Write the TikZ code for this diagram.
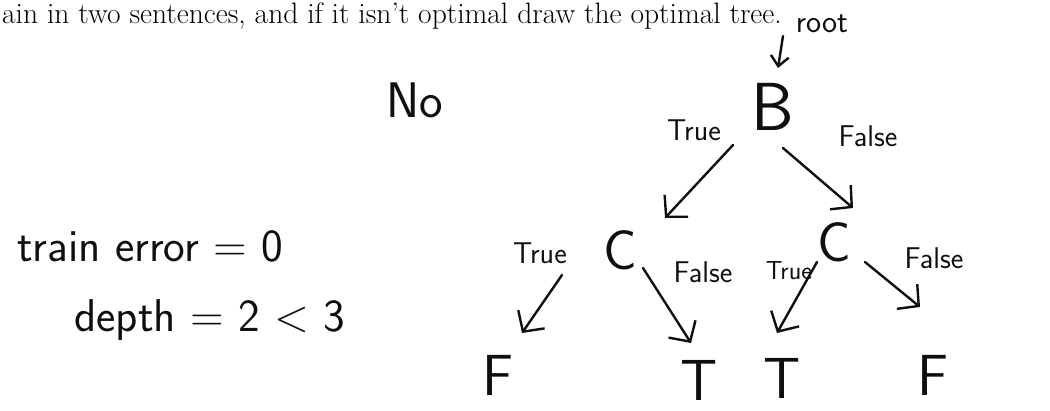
\documentclass[tikz,border=0pt]{standalone}
\usepackage{fontspec}
\usepackage{xcolor}
\usepackage{tikz}
\usetikzlibrary{arrows.meta}
\definecolor{inkBlack}{RGB}{15,15,15}

\begin{document}
\begin{tikzpicture}[x=1pt, y=-1pt,
		handNote/.style={font=\sffamily\fontsize{46}{52}\selectfont, text=inkBlack, inner sep=0pt},
		splitNode/.style={handNote, font=\sffamily\fontsize{56}{62}\selectfont},
		leafNode/.style={handNote, font=\sffamily\fontsize{58}{64}\selectfont},
		branchLabel/.style={handNote, font=\sffamily\fontsize{30}{34}\selectfont},
		branchArrow/.style={draw=inkBlack, line width=2.4pt, line cap=round,
			-{Straight Barb[length=15pt,width=32pt,line width=2.4pt]}}]
		\useasboundingbox (0,0) rectangle (1050,410);
		\node [anchor=base west, inner sep=0pt, font=\rmfamily\fontsize{29.5}{35}\selectfont] (prompt) at (2,23)
			{ain in two sentences, and if it isn't optimal draw the optimal tree.};
		% answer on the left
		\node [handNote, font=\sffamily\fontsize{50}{56}\selectfont] (answer) at (415,100) {No};
		\node [handNote] (trainErr) at (150,246) {train error = 0};
		\node [handNote] (depth) at (210,320) {depth = 2 < 3};
		% the tree
		\node [branchLabel, font=\sffamily\fontsize{32}{36}\selectfont] (rootNote) at (822,24) {root};
		\node [splitNode, font=\sffamily\fontsize{68}{74}\selectfont] (b) at (773,107) {B};
		\node [splitNode] (cLeft) at (620,250) {C};
		\node [splitNode] (cRight) at (834,242) {C};
		\node [leafNode] (fLeft) at (498,375) {F};
		\node [leafNode] (tLeft) at (699,380) {T};
		\node [leafNode] (tRight) at (782,378) {T};
		\node [leafNode] (fRight) at (933,375) {F};
		
		\node [branchLabel] (bTrue) at (694,130) {True};
		\node [branchLabel] (bFalse) at (868,136) {False};
		\node [branchLabel] (cLeftTrue) at (540,253) {True};
		\node [branchLabel] (cLeftFalse) at (703,272) {False};
		\node [branchLabel, font=\sffamily\fontsize{26}{30}\selectfont] (cRightTrue) at (789,271) {True};
		\node [branchLabel] (cRightFalse) at (934,258) {False};
		
		\draw [branchArrow, -{Straight Barb[length=10pt,width=18pt,line width=2.4pt]}]
			([shift={(-39,12)}]rootNote.center) -- ([shift={(5,-39)}]b.center);
		\draw [branchArrow] ([shift={(-40,38)}]b.center) -- ([shift={(45,-32)}]cLeft.center);
		\draw [branchArrow] ([shift={(10,41)}]b.center) -- ([shift={(19,-34)}]cRight.center);
		\draw [branchArrow] ([shift={(-58,25)}]cLeft.center) -- ([shift={(24,-42)}]fLeft.center);
		\draw [branchArrow] ([shift={(23,18)}]cLeft.center) -- ([shift={(-8,-37)}]tLeft.center);
		\draw [branchArrow] ([shift={(-17,20)}]cRight.center) -- ([shift={(-5,-45)}]tRight.center);
		\draw [branchArrow] ([shift={(31,20)}]cRight.center) -- ([shift={(-13,-68)}]fRight.center);
	\end{tikzpicture}
\end{document}
